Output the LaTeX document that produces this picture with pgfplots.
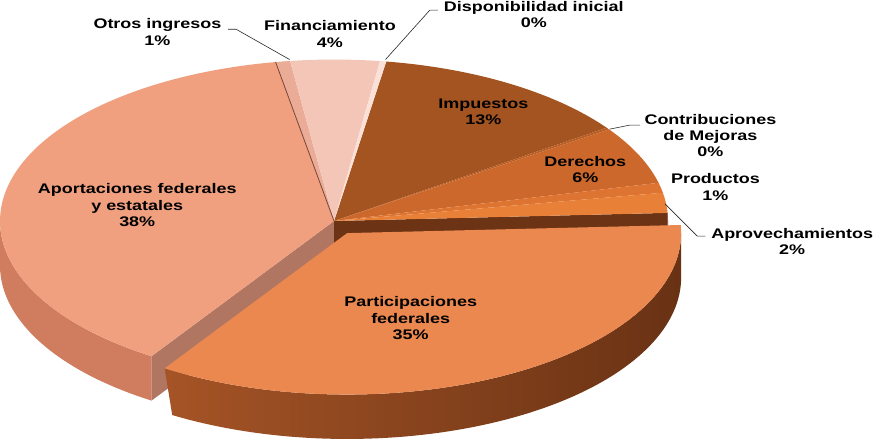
\documentclass[border=0pt]{standalone}
\usepackage{fontspec}
\setmainfont{Liberation Sans}
\usepackage{graphicx}
\usepackage{pgfplots}
\pgfplotsset{compat=1.18}

\definecolor{cImp}{RGB}{163,84,32}
\definecolor{cCon}{RGB}{185,95,38}
\definecolor{cDer}{RGB}{205,104,44}
\definecolor{cPro}{RGB}{222,116,50}
\definecolor{cApr}{RGB}{232,128,56}
\definecolor{cPar}{RGB}{234,136,80}
\definecolor{cApo}{RGB}{240,160,127}
\definecolor{cOtr}{RGB}{234,172,150}
\definecolor{cFin}{RGB}{244,198,184}
\definecolor{cDis}{RGB}{250,224,214}
\definecolor{wParL}{RGB}{165,84,38}
\definecolor{wParM}{RGB}{178,90,42}
\definecolor{wParR}{RGB}{105,50,20}
\definecolor{wApo}{RGB}{208,124,94}
\definecolor{wApoR}{RGB}{176,118,98}
\definecolor{wApr}{RGB}{108,52,20}
\definecolor{lead}{RGB}{40,40,40}

% ---- data: shares in percent, clockwise from the first slice ----
\def\pImp{12.7}\def\pCon{0.2}\def\pDer{5.8}\def\pPro{1}\def\pApr{2}
\def\pPar{35}\def\pApo{38}\def\pOtr{0.7}\def\pFin{4.3}\def\pDis{0.3}
\def\start{9}
% ---- geometry (pixels) ----
\def\cx{337}\def\cy{222}\def\ra{331}\def\rb{160}\def\dep{44}
\def\ox{13}\def\oy{12}
\pgfmathsetmacro\aA{\start}
\pgfmathsetmacro\aB{\aA+3.6*\pImp}
\pgfmathsetmacro\aC{\aB+3.6*\pCon}
\pgfmathsetmacro\aD{\aC+3.6*\pDer}
\pgfmathsetmacro\aE{\aD+3.6*\pPro}
\pgfmathsetmacro\aF{\aE+3.6*\pApr}
\pgfmathsetmacro\aG{\aF+3.6*\pPar}
\pgfmathsetmacro\aH{\aG+3.6*\pApo}
\pgfmathsetmacro\aI{\aH+3.6*\pOtr}
\pgfmathsetmacro\aJ{\aI+3.6*\pFin}
\pgfmathsetmacro\aK{\aJ+3.6*\pDis}
\pgfmathsetmacro\xF{\cx+\ra*sin(\aF)}
\pgfmathsetmacro\yF{\cy-\rb*cos(\aF)}
\pgfmathsetmacro\yFd{\yF+\dep}
\pgfmathsetmacro\xG{\cx+\ra*sin(\aG)}
\pgfmathsetmacro\yG{\cy-\rb*cos(\aG)}
\pgfmathsetmacro\yGd{\yG+\dep}
\pgfmathsetmacro\xH{\cx+\ra*sin(\aH)}
\pgfmathsetmacro\yH{\cy-\rb*cos(\aH)}
\pgfmathsetmacro\cyd{\cy+\dep}

\newcommand\topface[5]{% t1 t2 colour ox oy
\addplot[fill=#3, draw=none, domain=#1:#2, samples=90, variable=\t]
  ({\cx+#4+\ra*sin(\t)},{\cy+#5-\rb*cos(\t)}) -- (axis cs:{\cx+#4},{\cy+#5}) -- cycle;}
\newcommand\wall[5]{% t1 t2 ox oy style
\addplot[#5, draw=none, domain=0:2, samples=161, variable=\t]
  ({\cx+#3+\ra*sin(ifthenelse(\t<=1,#1+(#2-#1)*\t,#2-(#2-#1)*(\t-1)))},
   {\cy+#4-\rb*cos(ifthenelse(\t<=1,#1+(#2-#1)*\t,#2-(#2-#1)*(\t-1)))+(\t>1)*\dep}) -- cycle;}
\newcommand\lab[1]{\scalebox{1.29}[1]{\fontsize{13.8}{16}\selectfont\bfseries\setlength{\tabcolsep}{0pt}\begin{tabular}{c}#1\end{tabular}}}

\begin{document}
\begin{tikzpicture}
\begin{axis}[hide axis, scale only axis, width=873pt, height=440pt,
  xmin=0, xmax=873, ymin=0, ymax=440, y dir=reverse, clip=false]
% back walls of the fixed slices
\wall{\aG}{270}{0}{0}{fill=wApo}
\wall{\aF}{90}{0}{0}{fill=wApr}
\addplot[fill=wApoR, draw=none] coordinates {(\cx,\cy) (\xG,\yG) (\xG,\yGd) (\cx,\cyd)} -- cycle;
\addplot[fill=wApr, draw=none] coordinates {(\cx,\cy) (\xF,\yF) (\xF,\yFd) (\cx,\cyd)} -- cycle;
% top faces of the fixed slices
\topface{\aA}{\aB}{cImp}{0}{0}
\topface{\aB}{\aC}{cCon}{0}{0}
\topface{\aC}{\aD}{cDer}{0}{0}
\topface{\aD}{\aE}{cPro}{0}{0}
\topface{\aE}{\aF}{cApr}{0}{0}
\topface{\aG}{\aH}{cApo}{0}{0}
\topface{\aH}{\aI}{cOtr}{0}{0}
\topface{\aI}{\aJ}{cFin}{0}{0}
\topface{\aJ}{\aK}{cDis}{0}{0}
\addplot[draw={rgb,255:red,120;green,70;blue,55}, line width=0.8pt] coordinates {(\cx,\cy) (\xH,\yH)};
% exploded slice: Participaciones federales
\wall{90}{\aG}{\ox}{\oy}{left color=wParL, middle color=wParM, right color=wParR}
\topface{\aF}{\aG}{cPar}{\ox}{\oy}
% leader lines
\addplot[draw=lead, line width=0.6pt] coordinates {(232,32) (240,32) (293,62)};
\addplot[draw=lead, line width=0.6pt] coordinates {(388,62) (432,13) (440,13)};
\addplot[draw=lead, line width=0.6pt] coordinates {(610,131) (630,127) (640,127)};
\addplot[draw=lead, line width=0.6pt] coordinates {(665,205) (697,237) (705,237)};
% labels
\node[inner sep=0pt] at (axis cs:162,36.5) {\lab{Otros ingresos\\1\%}};
\node[inner sep=0pt] at (axis cs:333,38.5) {\lab{Financiamiento\\4\%}};
\node[inner sep=0pt] at (axis cs:535,19) {\lab{Disponibilidad inicial\\0\%}};
\node[inner sep=0pt] at (axis cs:485,115) {\lab{Impuestos\\13\%}};
\node[inner sep=0pt] at (axis cs:710,139) {\lab{Contribuciones\\de Mejoras\\0\%}};
\node[inner sep=0pt] at (axis cs:586,173) {\lab{Derechos\\6\%}};
\node[inner sep=0pt] at (axis cs:715,190) {\lab{Productos\\1\%}};
\node[inner sep=0pt] at (axis cs:791,244) {\lab{Aprovechamientos\\2\%}};
\node[inner sep=0pt] at (axis cs:142,208) {\lab{Aportaciones federales\\y estatales\\38\%}};
\node[inner sep=0pt] at (axis cs:413,320) {\lab{Participaciones\\federales\\35\%}};
\end{axis}
\end{tikzpicture}
\end{document}
